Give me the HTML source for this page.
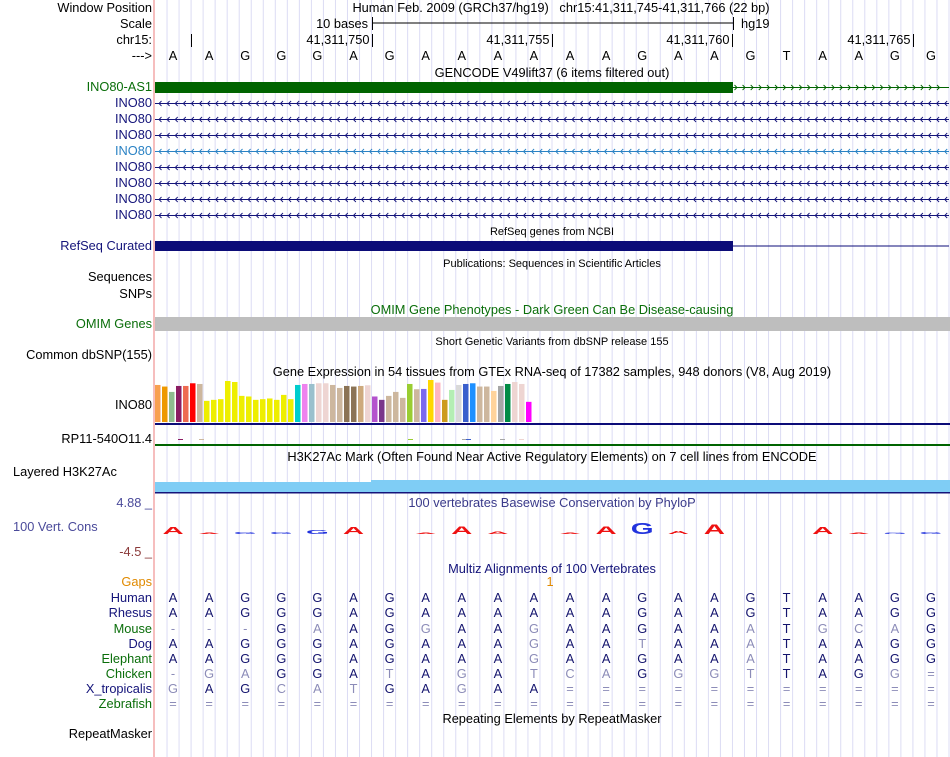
<!DOCTYPE html>
<html><head><meta charset="utf-8"><style>
html,body{margin:0;padding:0;background:#fff;}
svg{display:block;font-family:"Liberation Sans",Arial,sans-serif;}
</style></head><body>
<svg id="s" width="950" height="757" viewBox="0 0 950 757">
<g id="grid"></g>
<line x1="154" y1="0" x2="154" y2="757" stroke="#f4a8a8" stroke-width="1.5"/>
<g font-size="12.8" text-anchor="end">
<text x="152" y="12">Window Position</text>
<text x="152" y="28">Scale</text>
<text x="152" y="44">chr15:</text>
<text x="152" y="60">---&gt;</text>
<text x="152" y="91" fill="#0a6e0a">INO80-AS1</text>
<text x="152" y="107" fill="#14147a">INO80</text>
<text x="152" y="123" fill="#14147a">INO80</text>
<text x="152" y="139" fill="#14147a">INO80</text>
<text x="152" y="155" fill="#2a82c4">INO80</text>
<text x="152" y="171" fill="#14147a">INO80</text>
<text x="152" y="187" fill="#14147a">INO80</text>
<text x="152" y="203" fill="#14147a">INO80</text>
<text x="152" y="219" fill="#14147a">INO80</text>
<text x="152" y="250" fill="#14147a">RefSeq Curated</text>
<text x="152" y="281">Sequences</text>
<text x="152" y="298">SNPs</text>
<text x="152" y="328" fill="#0a6e0a">OMIM Genes</text>
<text x="152" y="359">Common dbSNP(155)</text>
<text x="152" y="409">INO80</text>
<text x="152" y="443">RP11-540O11.4</text>
<text x="13" y="476" text-anchor="start">Layered H3K27Ac</text>
<text x="152" y="507" fill="#4a4a9a">4.88 _</text>
<text x="13" y="531" text-anchor="start" fill="#4a4a9a">100 Vert. Cons</text>
<text x="152" y="556" fill="#8b3a3a">-4.5 _</text>
<text x="152" y="586" fill="#e08a00">Gaps</text>
<text x="152" y="602" fill="#14147a">Human</text>
<text x="152" y="617" fill="#14147a">Rhesus</text>
<text x="152" y="633" fill="#0a6e0a">Mouse</text>
<text x="152" y="648" fill="#14147a">Dog</text>
<text x="152" y="663" fill="#0a6e0a">Elephant</text>
<text x="152" y="678" fill="#0a6e0a">Chicken</text>
<text x="152" y="693" fill="#14147a">X_tropicalis</text>
<text x="152" y="708" fill="#0a6e0a">Zebrafish</text>
<text x="152" y="738">RepeatMasker</text>
</g>
<g font-size="12.8" text-anchor="middle">
<text x="561" y="12" xml:space="preserve">Human Feb. 2009 (GRCh37/hg19)   chr15:41,311,745-41,311,766 (22 bp)</text>
<text x="552" y="77">GENCODE V49lift37 (6 items filtered out)</text>
<text x="552" y="235" font-size="11">RefSeq genes from NCBI</text>
<text x="552" y="267" font-size="11">Publications: Sequences in Scientific Articles</text>
<text x="552" y="314" fill="#0a6e0a">OMIM Gene Phenotypes - Dark Green Can Be Disease-causing</text>
<text x="552" y="345" font-size="11">Short Genetic Variants from dbSNP release 155</text>
<text x="552" y="376">Gene Expression in 54 tissues from GTEx RNA-seq of 17382 samples, 948 donors (V8, Aug 2019)</text>
<text x="552" y="461">H3K27Ac Mark (Often Found Near Active Regulatory Elements) on 7 cell lines from ENCODE</text>
<text x="552" y="507" fill="#3a3a8a">100 vertebrates Basewise Conservation by PhyloP</text>
<text x="552" y="573" fill="#14147a">Multiz Alignments of 100 Vertebrates</text>
<text x="552" y="723">Repeating Elements by RepeatMasker</text>
<text x="550" y="586" fill="#e08a00">1</text>
</g>
<g font-size="12.8">
<text x="368" y="28" text-anchor="end">10 bases</text>
<line x1="372" y1="23" x2="733" y2="23" stroke="#000"/>
<line x1="372.5" y1="17" x2="372.5" y2="30" stroke="#000"/>
<line x1="733.5" y1="17" x2="733.5" y2="30" stroke="#000"/>
<text x="741" y="28">hg19</text>
</g>
<g id="chr" font-size="12.8" text-anchor="end"></g>
<g id="bases" font-size="12.8" text-anchor="middle"></g>
<g id="genes"></g>
<rect x="155" y="317" width="795" height="14" fill="#bebebe"/>
<g id="gtex"></g>
<rect x="155" y="482" width="216" height="10" fill="#7fcdf5"/>
<rect x="371" y="480" width="579" height="12" fill="#7fcdf5"/>
<rect x="155" y="492" width="795" height="1.5" fill="#14147a"/>
<g id="logo" font-weight="bold" text-anchor="middle"></g>
<g id="aln" font-size="12.8" text-anchor="middle"></g>
</svg>
<script>
const NS="http://www.w3.org/2000/svg";
const refBases="AAGGGAGAAAAAAGAAGTAAGG".split("");
// GTEx values (relative expression)
const gtexValues=[37.3,35.7,30.3,36.3,36.3,39,38.3,21.3,22.3,23,41.3,40.3,26.3,25.7,22.3,23,23.7,22.3,27.3,23,37.3,38.3,38.3,39,39,37.3,34.3,36.3,35.7,36.3,37,25.7,22.3,26.3,30.3,24.3,38.3,33,33.3,42.3,39.7,22.3,32.3,37.3,38.3,39,35.7,35.7,31.3,36.3,38.3,40.3,38.3,20.3];
const gtexColors=["#f8a050","#ee9900","#8fbc8f","#8b1c62","#ee6a50","#ff0000","#cdb79e","#eeee00","#eeee00","#eeee00","#eeee00","#eeee00","#eeee00","#eeee00","#eeee00","#eeee00","#eeee00","#eeee00","#eeee00","#eeee00","#00cdcd","#ee82ee","#9ac0cd","#eed5d2","#eed5d2","#cdb79e","#cdb79e","#8b7355","#8b7355","#cdaa7d","#eed5d2","#b452cd","#7a378b","#cdb79e","#cdb79e","#cdb79e","#9acd32","#cdb79e","#7b68ee","#ffd700","#ffb6c1","#cd9b1d","#b4eeb4","#d9d9d9","#3a5fcd","#1e90ff","#cdb79e","#cdb79e","#ffd39b","#a6a6a6","#008b45","#eed5d2","#eed5d2","#ff00ff"];
// PhyloP logo: letter per base, score
const logoLetters=["A","A","G","G","G","A","","A","A","A","","A","A","G","A","A","","","A","A","G","G"];
const logoScores=[7,1,2,2,4,7,0,1.5,8,2.5,0,1.5,8,11,3,10,0,0,7,1,1.5,2];
const speciesRows=[
"AAGGGAGAAAAAAGAAGTAAGG","AAGGGAGAAAAAAGAAGTAAGG",
"---GAAGGAAGAAGAAATGCAG","AAGGGAGAAAGAATAAATAAGG",
"AAGGGAGAAAGAAGAAATAAGG","-GAGGATAGATCAGGGTTAGG=",
"GAGCATGAGAA===========","======================"];
const lightMask=[
"0000000000000000000000","0000000000000000000000",
"1110100100100000101110","0000000000100100100000",
"0000000000100000100000","1110001010111011100011",
"1001110010011111111111","1111111111111111111111"];
const rowY=[602,617,633,648,663,678,693,708];
const X0=155,BW=(949-155)/22;
const bx=i=>X0+BW*(i+0.5);
function el(t,a,p){const e=document.createElementNS(NS,t);for(const k in a)e.setAttribute(k,a[k]);p.appendChild(e);return e;}
const S=id=>document.getElementById(id);
for(let k=1;k<=66;k++){const x=X0+BW/3*k;const l=el("line",{x1:x,y1:0,x2:x,y2:757,stroke:"#dcdcf4"},S("grid"));

}
const chrLabels=["","41,311,750","41,311,755","41,311,760","41,311,765"];
chrLabels.forEach((t,i)=>{const x=Math.round(X0+BW*(1+5*i))+0.5;
const l=el("line",{x1:x,y1:34,x2:x,y2:47,stroke:"#000"},S("chr"));


if(t){const tx=el("text",{x:x-3,y:44},S("chr"));tx.textContent=t;

}});
refBases.forEach((b,i)=>{const t=el("text",{x:bx(i),y:60},S("bases"));t.textContent=b;

});
const G=S("genes");
function chevrons(y,x1,x2,dir,col){let d="";for(let x=x1+4;x<x2-2;x+=8.1){d+=dir<0?`M${x+2.5},${y-2.5}L${x},${y}L${x+2.5},${y+2.5}`:`M${x-2.5},${y-2.5}L${x},${y}L${x-2.5},${y+2.5}`;}
const p=el("path",{d:d,stroke:col,fill:"none","stroke-width":0.9},G);}
let r=el("rect",{x:155,y:82,width:578,height:11,fill:"#006400"},G);


el("line",{x1:733,y1:87.5,x2:949,y2:87.5,stroke:"#006400"},G);
chevrons(87.5,733,949,1,"#006400");
[103,119,135,151,167,183,199,215].forEach((y,i)=>{const c=i==3?"#2a82c4":"#14147a";
const l=el("line",{x1:155,y1:y+0.5,x2:949,y2:y+0.5,stroke:c},G);


chevrons(y+0.5,155,949,-1,c);});
r=el("rect",{x:155,y:241,width:578,height:10,fill:"#0c0c78"},G);


el("line",{x1:733,y1:246,x2:949,y2:246,stroke:"#0c0c78"},G);
const GT=S("gtex"),base=422,maxPx=42,maxV=42.3;
const yv=v=>v/maxV*maxPx;
gtexValues.forEach((v,i)=>{const h=yv(v);const b=el("rect",{x:155+i*7,y:base-h,width:5.5,height:h,fill:gtexColors[i]},GT);

});
r=el("rect",{x:155,y:423,width:795,height:2,fill:"#0c0c78"},GT);


[[178,"#8b1c62"],[199,"#cdb79e"],[408,"#9acd32"],[462,"#a6a6a6"],[466,"#3a5fcd"],[500,"#a6a6a6"],[519,"#eed5d2"]].forEach(([x,c])=>{el("rect",{x:x,y:439,width:5,height:1,fill:c},GT);});
r=el("rect",{x:155,y:444,width:795,height:2,fill:"#006400"},GT);


const LG=S("logo"),lb=534;
logoLetters.forEach((L,i)=>{if(!L||!logoScores[i])return;const h=logoScores[i];
const col=(L=="A")?"#ee1111":"#2233dd";
const t=el("text",{x:0,y:0,fill:col,"font-size":14,transform:`translate(${bx(i)},${lb}) scale(2.1,${h/10})`},LG);
t.textContent=L;

});
const A=S("aln");
speciesRows.forEach((row,ri)=>{row.split("").forEach((c,i)=>{const t=el("text",{x:bx(i),y:rowY[ri],fill:lightMask[ri][i]=="1"?"#8c8cb8":"#14146e"},A);
t.textContent=c;

});});
</script>
</body></html>
